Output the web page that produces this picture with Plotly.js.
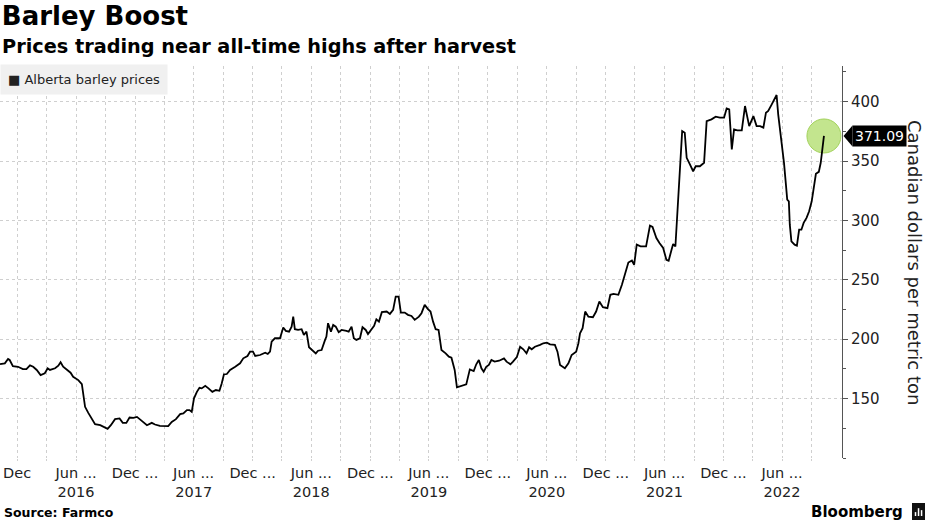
<!DOCTYPE html>
<html>
<head>
<meta charset="utf-8">
<script src="https://cdn.plot.ly/plotly-3.0.1.min.js"></script>
<style>
  html, body { margin: 0; padding: 0; background: #fff; }
  #chart { width: 930px; height: 523px; }
</style>
</head>
<body>
<div id="chart"></div>
<script>
// ---- Data ----
const dates = [
  '2015-10-09','2015-10-24','2015-11-03','2015-11-08','2015-11-18','2015-12-04','2015-12-19','2015-12-30',
  '2016-01-10','2016-01-20','2016-01-31','2016-02-12','2016-02-25','2016-03-05','2016-03-12','2016-03-28','2016-04-07','2016-04-14','2016-04-22','2016-05-03','2016-05-15','2016-05-23','2016-06-08','2016-06-19','2016-06-24','2016-06-29','2016-07-09','2016-07-20','2016-07-30','2016-08-15','2016-08-25','2016-09-07','2016-09-17','2016-09-30','2016-10-14','2016-10-24','2016-11-04','2016-11-14','2016-11-26','2016-12-07','2016-12-22',
  '2017-01-07','2017-01-22','2017-02-01','2017-02-16','2017-03-04','2017-03-14','2017-03-25','2017-04-07','2017-04-20','2017-04-30','2017-05-11','2017-05-19','2017-05-26','2017-06-02','2017-06-11','2017-06-19','2017-06-26','2017-07-07','2017-07-17','2017-07-29','2017-08-09','2017-08-20','2017-08-27','2017-09-03','2017-09-12','2017-09-22','2017-10-08','2017-10-23','2017-11-02','2017-11-15','2017-11-23','2017-12-02','2017-12-09','2017-12-24',
  '2018-01-09','2018-01-17','2018-01-24','2018-01-29','2018-02-08','2018-02-24','2018-03-06','2018-03-14','2018-03-24','2018-04-01','2018-04-06','2018-04-11','2018-04-21','2018-05-02','2018-05-09','2018-05-17','2018-05-25','2018-06-05','2018-06-15','2018-06-22','2018-07-03','2018-07-13','2018-07-18','2018-07-23','2018-08-01','2018-08-08','2018-08-16','2018-08-25','2018-09-03','2018-09-18','2018-09-25','2018-10-04','2018-10-11','2018-10-19','2018-10-30','2018-11-07','2018-11-17','2018-11-24','2018-12-05','2018-12-13','2018-12-20','2018-12-28',
  '2019-01-06','2019-01-21','2019-01-31','2019-02-10','2019-02-18','2019-02-27','2019-03-06','2019-03-18','2019-03-28','2019-04-08','2019-04-18','2019-05-01','2019-05-09','2019-05-19','2019-05-29','2019-06-06','2019-06-14','2019-06-22','2019-07-01','2019-07-10','2019-07-23','2019-08-02','2019-08-10','2019-08-20','2019-08-27','2019-09-10','2019-09-25','2019-10-06','2019-10-18','2019-10-26','2019-11-03','2019-11-11','2019-11-18','2019-11-26','2019-12-04','2019-12-12','2019-12-22',
  '2020-01-05','2020-01-20','2020-01-28','2020-02-09','2020-02-17','2020-02-29','2020-03-10','2020-03-20','2020-03-30','2020-04-07','2020-04-15','2020-04-25','2020-05-11','2020-05-21','2020-06-01','2020-06-11','2020-06-26','2020-07-04','2020-07-12','2020-07-27','2020-08-07','2020-08-17','2020-08-31','2020-09-07','2020-09-12','2020-09-20','2020-09-28','2020-10-08','2020-10-22','2020-11-01','2020-11-11','2020-11-22','2020-12-06','2020-12-15','2020-12-25',
  '2021-01-09','2021-01-20','2021-01-30','2021-02-09','2021-02-20','2021-02-27','2021-03-07','2021-03-19','2021-04-05','2021-04-17','2021-04-25','2021-05-07','2021-05-17','2021-05-28','2021-06-07','2021-06-14','2021-06-23','2021-06-28','2021-07-05','2021-07-10','2021-07-15','2021-07-21','2021-07-26','2021-08-03','2021-08-09','2021-08-19','2021-08-29','2021-09-06','2021-09-19','2021-10-02','2021-10-10','2021-10-25','2021-11-07','2021-11-20','2021-12-03','2021-12-11','2021-12-19','2021-12-27',
  '2022-01-03','2022-01-13','2022-01-27','2022-02-06','2022-02-19','2022-03-04','2022-03-14','2022-03-25','2022-04-04','2022-04-12','2022-04-19','2022-04-30','2022-05-15','2022-05-20','2022-05-31','2022-06-07','2022-06-13','2022-06-17','2022-06-22','2022-06-25','2022-06-30','2022-07-10','2022-07-17','2022-07-24','2022-07-31','2022-08-07','2022-08-16','2022-08-24','2022-09-01','2022-09-09','2022-09-14','2022-09-23','2022-09-29','2022-10-09'
];
const prices = [
  179.1,179.7,183.3,182.5,177.4,176.8,174.9,174.9,
  178,176.8,174.1,169.8,171.3,175.5,174.1,175.5,177.7,180.6,176.8,174.1,171.8,168.4,165.6,162.2,151.5,143.1,138,133.3,128.5,127.6,126.2,124.5,127.6,132.7,133.3,129.6,129.6,134.1,133.8,134.6,131.3,
  127.6,129.6,128.2,127,126.8,126.8,130.4,132.7,136.9,137.5,140.3,140.3,138.9,150.2,155.7,159.1,158.6,160.8,158.6,155.7,157.2,156.6,162.8,170.4,170.7,174.1,176.8,179.7,183.9,185.9,189.5,189.5,185.9,186.7,
  188.7,187.6,189.5,198,200.8,200.8,209.8,207,206.4,210.6,219,208.4,207.8,208.4,203.6,206.4,193.2,190.1,188.1,190.3,190.9,198.8,202.2,213.5,206.4,212,210.6,205.9,207.8,207,206.4,210.6,200.8,199.4,200.8,210.1,207.8,204.4,207.8,211.2,216.8,214.8,
  222.8,223.3,221.3,224.7,235.9,235.9,222.4,222.4,220.5,219.6,216.3,219,221.9,228.9,225.3,223.3,214.8,208.4,207.8,190.9,188.1,185.3,184.4,174.1,159.5,160.6,162,174.6,173.2,178.9,182.5,175.5,172.6,176.8,178.3,182.5,181.1,
  181.9,183.9,181.1,178.9,181.1,185,193.7,191.5,188.1,193.2,191.5,193.7,195.2,196.6,197.1,195.7,195.2,189.5,178.3,175.5,179.7,186.7,189.5,196.6,205,209.3,223.3,219,218.5,223.3,231.7,227,226.1,237.4,238.2,
  237.4,245.8,255.7,264.6,266.3,262.7,279.6,278.1,278.1,295.6,294.5,285.2,280.8,276.8,266.9,266.1,275.3,280.1,278.1,299.2,324.5,352.7,375.2,373.8,352.7,347.1,341.4,345.6,345.6,348.5,383.6,385.1,387.3,386.5,386.5,394.3,393.5,359.7,
  376.6,375.8,375.8,396.3,379.4,387.8,379.4,379.4,378.1,390.7,392.1,397.7,405.6,389.3,365.4,348.5,330.2,317.5,316.1,296.4,282.3,279.6,278.7,292.2,292.2,297.9,302.1,307.7,316.1,330.2,339.2,340.9,348.5,371.09
];
const seriesName = 'Alberta barley prices';
const tickDates = [
  '2015-12-01','2016-03-01','2016-06-01','2016-09-01','2016-12-01','2017-03-01','2017-06-01','2017-09-01',
  '2017-12-01','2018-03-01','2018-06-01','2018-09-01','2018-12-01','2019-03-01','2019-06-01','2019-09-01',
  '2019-12-01','2020-03-01','2020-06-01','2020-09-01','2020-12-01','2021-03-01','2021-06-01','2021-09-01',
  '2021-12-01','2022-03-01','2022-06-01','2022-09-01'
];
const tickLabels = [
  'Dec','','Jun ...<br>2016','','Dec ...','','Jun ...<br>2017','',
  'Dec ...','','Jun ...<br>2018','','Dec ...','','Jun ...<br>2019','',
  'Dec ...','','Jun ...<br>2020','','Dec ...','','Jun ...<br>2021','',
  'Dec ...','','Jun ...<br>2022',''
];
const yTickVals = [150, 200, 250, 300, 350, 400];

// ---- Chart ----
const lastDate = dates[dates.length - 1];
const lastVal = prices[prices.length - 1];
const FONT = 'DejaVu Sans, Verdana, sans-serif';

const traces = [
  {
    x: [lastDate], y: [lastVal], type: 'scatter', mode: 'markers',
    marker: { size: 34, color: '#c3e58e', line: { color: '#a3d25c', width: 1 } },
    hoverinfo: 'skip', showlegend: false, cliponaxis: false
  },
  {
    x: dates, y: prices, type: 'scatter', mode: 'lines', name: seriesName,
    line: { color: '#000000', width: 1.8 },
    showlegend: false
  }
];

const layout = {
  width: 930, height: 523,
  margin: { l: 0, r: 88, t: 66, b: 65 },
  paper_bgcolor: '#ffffff', plot_bgcolor: '#ffffff',
  showlegend: false,
  font: { family: FONT, color: '#222' },
  title: {
    text: 'Barley Boost',
    font: { family: 'DejaVu Sans, Verdana, sans-serif', size: 26, color: '#000', weight: 'bold' },
    xref: 'container', x: 0.002, xanchor: 'left',
    yref: 'container', y: 1, yanchor: 'top',
    pad: { t: 7, l: 0 }
  },
  xaxis: {
    type: 'date',
    range: ['2015-10-09', '2022-12-04'],
    tickmode: 'array', tickvals: tickDates, ticktext: tickLabels,
    showgrid: true, gridcolor: '#cfcfcf', griddash: 'dot', gridwidth: 1,
    ticks: 'outside', ticklen: 2, tickcolor: '#d0d0d0',
    showline: false, zeroline: false,
    tickfont: { family: FONT, size: 14.5, color: '#222' }
  },
  yaxis: {
    side: 'right',
    range: [100, 430],
    tickmode: 'array', tickvals: yTickVals,
    showgrid: true, gridcolor: '#cfcfcf', griddash: 'dot', gridwidth: 1,
    showline: true, linecolor: '#555', linewidth: 1,
    ticks: 'outside', ticklen: 5, tickcolor: '#555',
    minor: { dtick: 25, tick0: 0, ticks: 'outside', ticklen: 3, tickcolor: '#555', showgrid: false },
    zeroline: false,
    tickfont: { family: FONT, size: 15, color: '#222' }
  },
  annotations: [
    {
      text: '<b>Prices trading near all-time highs after harvest</b>',
      xref: 'paper', yref: 'paper', x: 0, y: 1.0485, xanchor: 'left', yanchor: 'middle',
      showarrow: false, font: { family: FONT, size: 19.3, color: '#000' }
    },
    {
      text: '■ ' + seriesName,
      xref: 'paper', yref: 'paper', x: 0, y: 1.005, xanchor: 'left', yanchor: 'top',
      showarrow: false, bgcolor: '#f0f0f0', borderpad: 7,
      font: { family: FONT, size: 13, color: '#222' }
    },
    {
      text: 'Canadian dollars per metric ton',
      xref: 'paper', yref: 'paper', x: 1.0867, y: 0.5, xanchor: 'center', yanchor: 'middle',
      textangle: 90, showarrow: false,
      font: { family: FONT, size: 18, color: '#222' }
    },
    {
      text: lastVal.toFixed(2),
      xref: 'paper', yref: 'y', x: 1.0119, y: lastVal, xanchor: 'left', yanchor: 'middle',
      showarrow: false, bgcolor: '#000', borderpad: 2,
      font: { family: FONT, size: 14, color: '#fff' }
    },
    {
      text: '<b>Source: Farmco</b>',
      xref: 'paper', yref: 'paper', x: 0.002, y: -0.140, xanchor: 'left', yanchor: 'middle',
      showarrow: false, font: { family: FONT, size: 12.5, color: '#000' }
    },
    {
      text: '<b>Bloomberg</b>',
      xref: 'paper', yref: 'paper', x: 1.0748, y: -0.138, xanchor: 'right', yanchor: 'middle',
      showarrow: false, font: { family: FONT, size: 15, color: '#000' }
    }
  ],
  shapes: [
    {
      type: 'path', xref: 'paper', yref: 'y', xsizemode: 'pixel', ysizemode: 'pixel',
      xanchor: 1, yanchor: lastVal,
      path: 'M 1.5 0 L 10.5 10.5 L 10.5 -10.5 Z',
      fillcolor: '#000', line: { width: 0 }
    },
    {
      type: 'rect', xref: 'paper', yref: 'paper',
      x0: 1.0831, x1: 1.0986, y0: -0.1582, y1: -0.1148,
      fillcolor: '#111', line: { width: 0 }
    },
    { type: 'line', xref: 'paper', yref: 'paper', x0: 1.0873, x1: 1.0873, y0: -0.148, y1: -0.138, line: { color: '#fff', width: 1.5 } },
    { type: 'line', xref: 'paper', yref: 'paper', x0: 1.0909, x1: 1.0909, y0: -0.148, y1: -0.128, line: { color: '#fff', width: 1.5 } },
    { type: 'line', xref: 'paper', yref: 'paper', x0: 1.0945, x1: 1.0945, y0: -0.148, y1: -0.133, line: { color: '#fff', width: 1.5 } }
  ]
};

Plotly.newPlot('chart', traces, layout, { displayModeBar: false, staticPlot: true });
</script>
</body>
</html>
